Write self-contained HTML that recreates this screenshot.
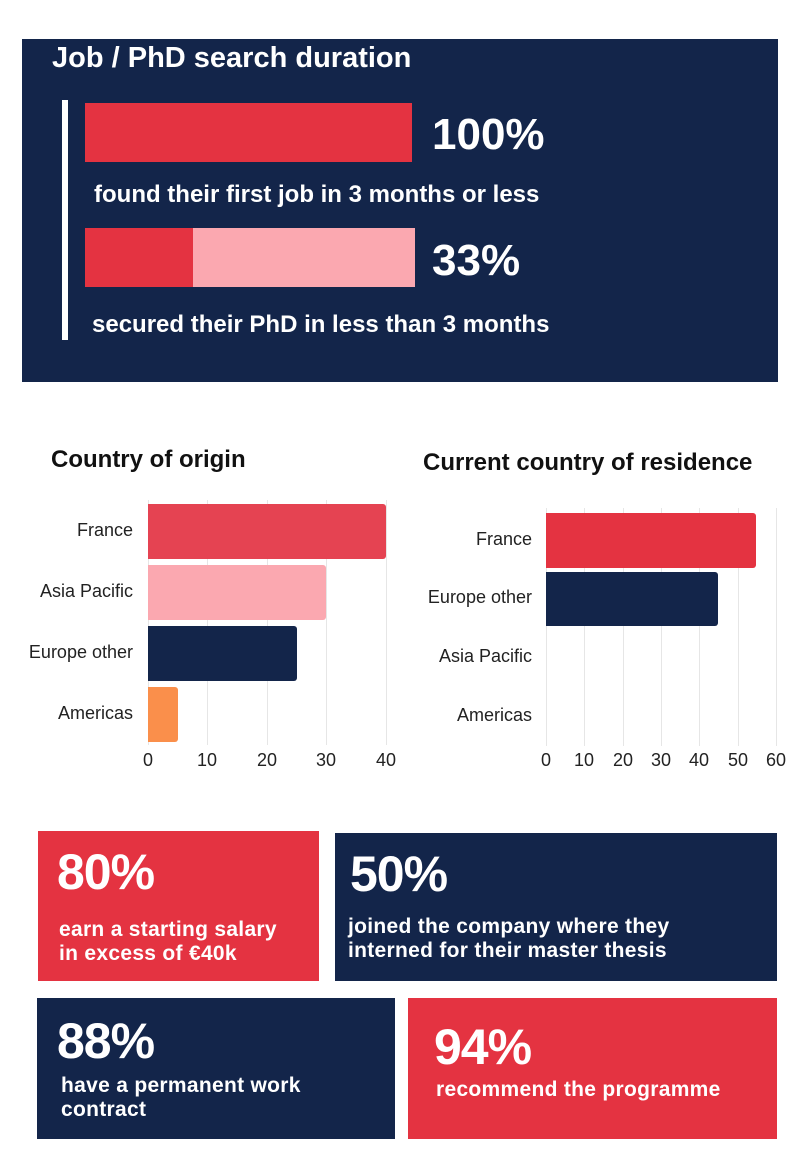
<!DOCTYPE html>
<html><head><meta charset="utf-8"><style>
body{margin:0;width:798px;height:1168px;background:#fff;position:relative;font-family:"Liberation Sans",sans-serif;overflow:hidden}
.a{position:absolute;white-space:nowrap}
.navy{background:#13254a}.red{background:#e43341}
.w{color:#fff}
.big{font-weight:bold;color:#fff;font-size:50px;letter-spacing:-1px}
.txt{color:#fff;font-size:21px;line-height:24px;font-weight:bold;letter-spacing:0.3px}
.lab{font-size:18px;color:#222;text-align:right}
.tick{font-size:18px;color:#222;text-align:center;width:30px}
.grid{width:1px;background:#e6e6e6}
</style></head><body>
<div class="a navy" style="left:22px;top:39px;width:756px;height:343px"></div>
<div class="a w" style="left:52px;top:42px;font-size:29px;font-weight:bold">Job / PhD search duration</div>
<div class="a" style="left:62px;top:100px;width:6px;height:240px;background:#fff"></div>
<div class="a red" style="left:85px;top:103px;width:327px;height:59px"></div>
<div class="a w" style="left:432px;top:110px;font-size:44px;font-weight:bold">100%</div>
<div class="a w" style="left:94px;top:181px;font-size:24px;font-weight:bold">found their first job in 3 months or less</div>
<div class="a" style="left:85px;top:228px;width:330px;height:59px;background:#fba8b0"></div>
<div class="a red" style="left:85px;top:228px;width:108px;height:59px"></div>
<div class="a w" style="left:432px;top:236px;font-size:44px;font-weight:bold">33%</div>
<div class="a w" style="left:92px;top:311px;font-size:24px;font-weight:bold">secured their PhD in less than 3 months</div>

<div class="a" style="left:51px;top:446px;font-size:24px;color:#111;font-weight:bold">Country of origin</div>
<div class="a" style="left:423px;top:449px;font-size:24px;color:#111;font-weight:bold">Current country of residence</div>

<div class="a grid" style="left:207px;top:500px;height:245px"></div>
<div class="a grid" style="left:267px;top:500px;height:245px"></div>
<div class="a grid" style="left:326px;top:500px;height:245px"></div>
<div class="a grid" style="left:386px;top:500px;height:245px"></div>
<div class="a grid" style="left:148px;top:500px;height:245px"></div>
<div class="a" style="left:148px;top:504px;width:238px;height:55px;background:#e54352;border-radius:0 3px 3px 0"></div>
<div class="a" style="left:148px;top:565px;width:178px;height:55px;background:#fba8b0;border-radius:0 3px 3px 0"></div>
<div class="a" style="left:148px;top:626px;width:149px;height:55px;background:#13254a;border-radius:0 3px 3px 0"></div>
<div class="a" style="left:148px;top:687px;width:30px;height:55px;background:#fa8f4b;border-radius:0 3px 3px 0"></div>
<div class="a lab" style="left:0;width:133px;top:520px">France</div>
<div class="a lab" style="left:0;width:133px;top:581px">Asia Pacific</div>
<div class="a lab" style="left:0;width:133px;top:642px">Europe other</div>
<div class="a lab" style="left:0;width:133px;top:703px">Americas</div>
<div class="a tick" style="left:133px;top:750px">0</div>
<div class="a tick" style="left:192px;top:750px">10</div>
<div class="a tick" style="left:252px;top:750px">20</div>
<div class="a tick" style="left:311px;top:750px">30</div>
<div class="a tick" style="left:371px;top:750px">40</div>

<div class="a grid" style="left:546px;top:508px;height:238px"></div>
<div class="a grid" style="left:584px;top:508px;height:238px"></div>
<div class="a grid" style="left:623px;top:508px;height:238px"></div>
<div class="a grid" style="left:661px;top:508px;height:238px"></div>
<div class="a grid" style="left:699px;top:508px;height:238px"></div>
<div class="a grid" style="left:738px;top:508px;height:238px"></div>
<div class="a grid" style="left:776px;top:508px;height:238px"></div>
<div class="a" style="left:546px;top:513px;width:210px;height:55px;background:#e43341;border-radius:0 3px 3px 0"></div>
<div class="a" style="left:546px;top:572px;width:172px;height:54px;background:#13254a;border-radius:0 3px 3px 0"></div>
<div class="a lab" style="left:400px;width:132px;top:529px">France</div>
<div class="a lab" style="left:400px;width:132px;top:587px">Europe other</div>
<div class="a lab" style="left:400px;width:132px;top:646px">Asia Pacific</div>
<div class="a lab" style="left:400px;width:132px;top:705px">Americas</div>
<div class="a tick" style="left:531px;top:750px">0</div>
<div class="a tick" style="left:569px;top:750px">10</div>
<div class="a tick" style="left:608px;top:750px">20</div>
<div class="a tick" style="left:646px;top:750px">30</div>
<div class="a tick" style="left:684px;top:750px">40</div>
<div class="a tick" style="left:723px;top:750px">50</div>
<div class="a tick" style="left:761px;top:750px">60</div>

<div class="a red" style="left:38px;top:831px;width:281px;height:150px"></div>
<div class="a big" style="left:57px;top:843px">80%</div>
<div class="a txt" style="left:59px;top:918px">earn a starting salary<br>in excess of €40k</div>
<div class="a navy" style="left:335px;top:833px;width:442px;height:148px"></div>
<div class="a big" style="left:350px;top:845px">50%</div>
<div class="a txt" style="left:348px;top:915px">joined the company where they<br>interned for their master thesis</div>
<div class="a navy" style="left:37px;top:998px;width:358px;height:141px"></div>
<div class="a big" style="left:57px;top:1012px">88%</div>
<div class="a txt" style="left:61px;top:1074px">have a permanent work<br>contract</div>
<div class="a red" style="left:408px;top:998px;width:369px;height:141px"></div>
<div class="a big" style="left:434px;top:1018px">94%</div>
<div class="a txt" style="left:436px;top:1078px">recommend the programme</div>
</body></html>
